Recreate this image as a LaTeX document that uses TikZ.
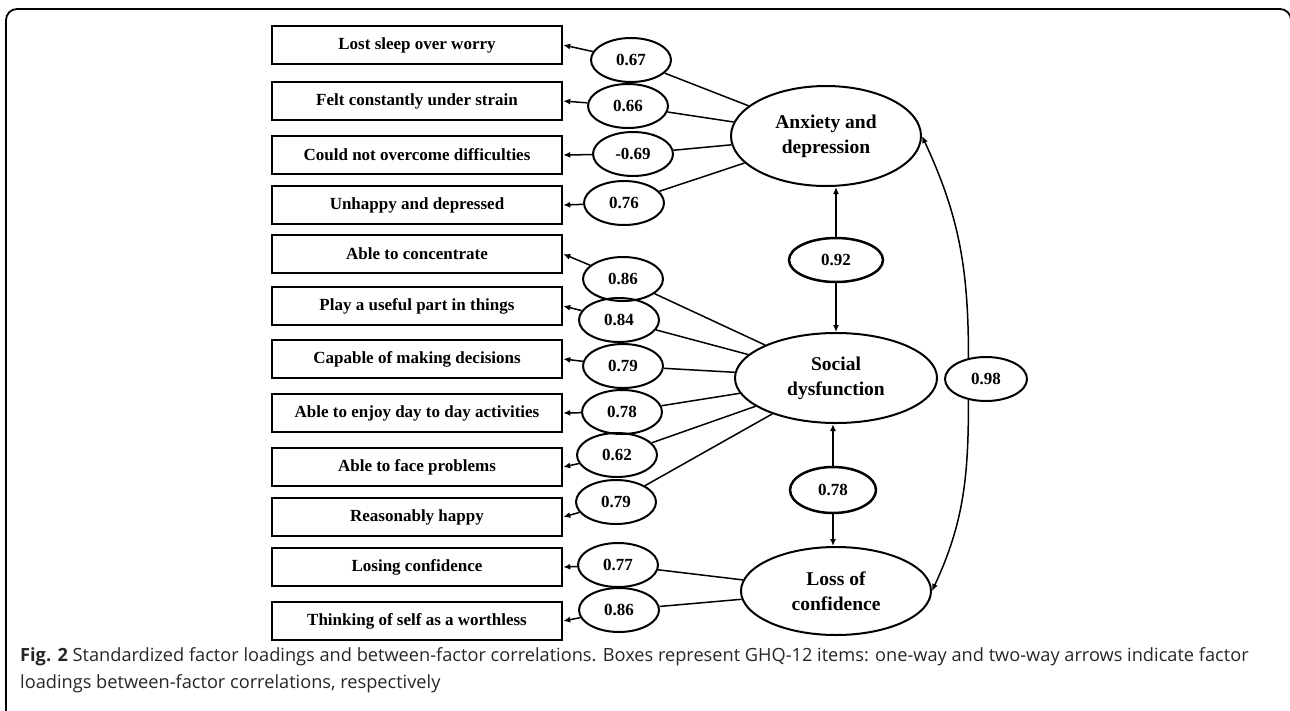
\documentclass[tikz,border=0pt]{standalone}
\usepackage{fontspec}
\setmainfont{Liberation Serif}
\newfontfamily\capfont{Open Sans}
\usetikzlibrary{shapes.geometric,arrows.meta}
\tikzset{
  item/.style={draw,line width=2.5pt,minimum width=290pt,minimum height=38pt,inner sep=0pt,font=\fontsize{17}{20}\selectfont\bfseries},
  load/.style={draw,ellipse,line width=2pt,minimum width=80pt,minimum height=44pt,inner sep=0pt,font=\fontsize{17}{20}\selectfont\bfseries},
  factor/.style={draw,ellipse,line width=2pt,align=center,inner sep=0pt,font=\fontsize{19.5}{25}\selectfont\bfseries},
  link/.style={line width=1.5pt},
  caption/.style={anchor=base west,inner sep=0pt,text=black!85,font=\capfont\fontsize{18.2}{27}\selectfont}
}
\begin{document}
\begin{tikzpicture}[x=1pt,y=-1pt,>={Latex[length=7pt,width=6pt]}]
\useasboundingbox (0,0) rectangle (1290,710);
% Frame
    \draw[line width=1.8pt,rounded corners=11pt] (6,720) -- (6,9) -- (1291,9) -- (1291,60);
% Factors
    \node[factor,minimum width=190pt,minimum height=100pt] (anx) at (826,136) {Anxiety and\\depression};
    \node[factor,minimum width=202pt,minimum height=90pt] (soc) at (836,378) {Social\\dysfunction};
    \node[factor,minimum width=190pt,minimum height=88pt] (los) at (836,591) {Loss of\\confidence};
% Correlations
    \node[load,line width=2.5pt,minimum width=94pt] (r92) at (836,260) {0.92};
    \node[load,line width=2.5pt,minimum width=86pt,minimum height=46pt] (r78) at (833,490) {0.78};
    \node[load,minimum width=82pt] (r98) at (986,379) {0.98};
    \draw[link,->] (r92) -- (r92|-anx.south);
    \draw[link,->] (r92) -- (r92|-soc.north);
    \draw[link,->] (r78) -- (r78|-soc.south);
    \draw[link,->] (r78) -- (r78|-los.north);
    \draw[link,->] (r98.130) to[out=90,in=-65] (anx.east);
    \draw[link,->] (r98.230) to[out=-90,in=65] (los.east);
% Items
    \foreach \y/\t [count=\i] in {45/Lost sleep over worry,101/Felt constantly under strain,
        155/Could not overcome difficulties,205/Unhappy and depressed,254/Able to concentrate,
        306/Play a useful part in things,359/Capable of making decisions,
        413/Able to enjoy day to day activities,467/Able to face problems,517/Reasonably happy,
        567/Losing confidence,621/Thinking of self as a worthless}{
        \node[item] (b\i) at (417,\y) {\t};
    }
% Loadings
    \foreach \x/\y/\v/\f [count=\i] in {631/60/0.67/anx,628/106/0.66/anx,633/154/-0.69/anx,
        624/203/0.76/anx,623/279/0.86/soc,619/320/0.84/soc,623/366/0.79/soc,622/412/0.78/soc,
        617/455/0.62/soc,616/502/0.79/soc,618/565/0.77/los,619/610/0.86/los}{
        \node[load] (l\i) at (\x,\y) {\v};
        \draw[link] (\f) -- (l\i);
        \draw[link,->] (l\i) -- (b\i.east);
    }
% Caption
    \node[caption] (cap1) at (20,661) {\textbf{Fig. 2} Standardized factor loadings and between-factor correlations. Boxes represent GHQ-12 items: one-way and two-way arrows indicate factor};
    \node[caption] (cap2) at (20,688) {loadings between-factor correlations, respectively};
\end{tikzpicture}
\end{document}
